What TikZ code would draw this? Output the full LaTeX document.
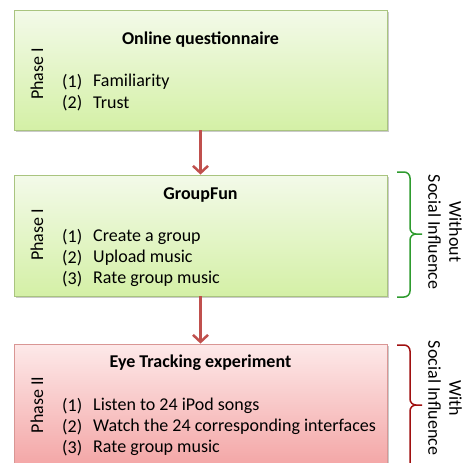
\documentclass[tikz,border=0pt]{standalone}
\usepackage{fontspec}
\setmainfont{Carlito}
\usetikzlibrary{arrows.meta,shadows}
\definecolor{gtop}{HTML}{F3FAE9}
\definecolor{gbot}{HTML}{D4F0A6}
\definecolor{gborder}{HTML}{A9C47F}
\definecolor{rtop}{HTML}{FDE9E9}
\definecolor{rbot}{HTML}{F29C9C}
\definecolor{rborder}{HTML}{D99694}
\definecolor{arrred}{HTML}{C0504D}
\definecolor{brgreen}{HTML}{2E9B2E}
\definecolor{brred}{HTML}{A01010}
\begin{document}
\begin{tikzpicture}[x=1pt,y=1pt,
  every node/.style={font=\fontsize{18}{21}\selectfont, inner sep=0pt},
  phasebox/.style={rectangle, draw, line width=0.8pt, minimum width=373pt,
    drop shadow={shadow xshift=1.5pt, shadow yshift=-1.5pt, opacity=0.35, fill=black!60}},
  greenbox/.style={phasebox, draw=gborder, top color=gtop, bottom color=gbot},
  redbox/.style={phasebox, draw=rborder, top color=rtop, bottom color=rbot},
  title/.style={font=\fontsize{18}{21}\selectfont\bfseries},
  num/.style={anchor=west},
  item/.style={anchor=west},
  phase/.style={rotate=90},
  arr/.style={draw=arrred, line width=2.5pt, -{Straight Barb[length=7pt,width=15pt,line width=2.5pt]}},
  bracestyle/.style={line width=1.5pt},
  side/.style={rotate=-90, align=center}
]
\useasboundingbox (0,0) rectangle (464,-463);
\clip (0,0) rectangle (464,-463);

% boxes
\node[greenbox, minimum height=120pt] (b1) at (200.5,-70) {};
\node[greenbox, minimum height=121pt] (b2) at (200.5,-235.5) {};
\node[redbox, minimum height=140pt] (b3) at (200.5,-414) {};

% box 1
\node[title] (t1) at (200.5,-40) {Online questionnaire};
\node[phase] (p1) at (37,-74) {Phase I};
\node[num] (n11) at (62,-82) {(1)};
\node[item] (i11) at (93,-82) {Familiarity};
\node[num] (n12) at (62,-103) {(2)};
\node[item] (i12) at (93,-103) {Trust};

% box 2
\node[title] (t2) at (200.5,-195) {GroupFun};
\node[phase] (p2) at (37,-235) {Phase I};
\node[num] (n21) at (62,-237) {(1)};
\node[item] (i21) at (93,-237) {Create a group};
\node[num] (n22) at (62,-258) {(2)};
\node[item] (i22) at (93,-258) {Upload music};
\node[num] (n23) at (62,-279) {(3)};
\node[item] (i23) at (93,-279) {Rate group music};

% box 3
\node[title] (t3) at (200.5,-363) {Eye Tracking experiment};
\node[phase] (p3) at (37,-405) {Phase II};
\node[num] (n31) at (62,-406) {(1)};
\node[item] (i31) at (93,-406) {Listen to 24 iPod songs};
\node[num] (n32) at (62,-427) {(2)};
\node[item] (i32) at (93,-427) {Watch the 24 corresponding interfaces};
\node[num] (n33) at (62,-448) {(3)};
\node[item] (i33) at (93,-448) {Rate group music};

% arrows
\draw[arr] (b1.south) -- (b2.north);
\draw[arr] (b2.south) -- (b3.north);

% braces
\draw[bracestyle, draw=brgreen]
  (397,-172) -- (404,-172) to[out=0,in=90] (410,-178) -- (410,-228)
  to[out=-90,in=180] (416,-234) -- (422,-234)
  (416,-234) to[out=180,in=90] (410,-240) -- (410,-291)
  to[out=-90,in=0] (404,-297) -- (397,-297);
\draw[bracestyle, draw=brred]
  (397,-345) -- (404,-345) to[out=0,in=90] (410,-351) -- (410,-399)
  to[out=-90,in=180] (416,-405) -- (422,-405)
  (416,-405) to[out=180,in=90] (410,-411) -- (410,-470);

\node[side] (s1) at (445,-232) {Without\\Social Influence};
\node[side] (s2) at (445,-398) {With\\Social Influence};
\end{tikzpicture}
\end{document}
